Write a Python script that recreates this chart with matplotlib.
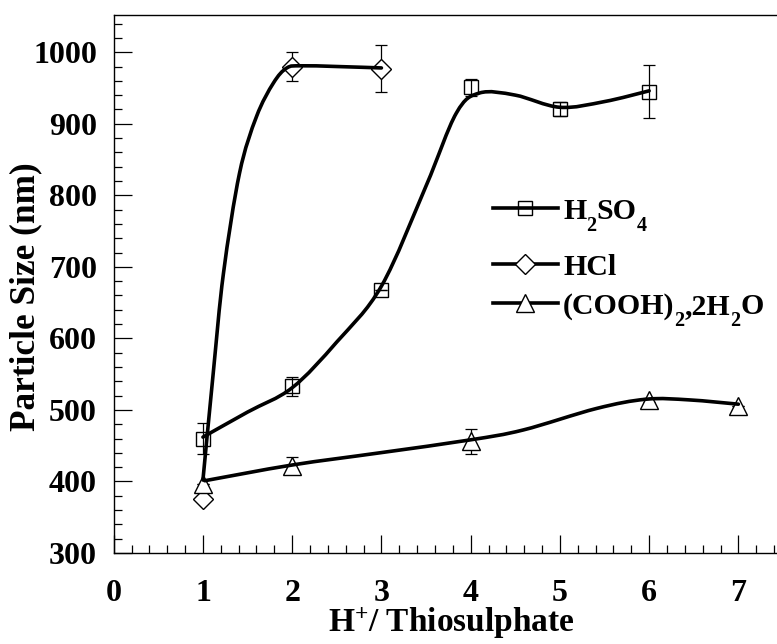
import numpy as np
import matplotlib
matplotlib.use("Agg")
import matplotlib.pyplot as plt
from matplotlib.path import Path
from matplotlib.patches import PathPatch
from matplotlib.ticker import MultipleLocator
from matplotlib.transforms import IdentityTransform

plt.rcParams['font.family'] = ['Liberation Serif', 'DejaVu Serif']
plt.rcParams['font.weight'] = 'bold'
plt.rcParams['mathtext.fontset'] = 'custom'
plt.rcParams['mathtext.rm'] = 'Liberation Serif:bold'
plt.rcParams['mathtext.it'] = 'Liberation Serif:bold'
plt.rcParams['mathtext.bf'] = 'Liberation Serif:bold'

# measured points
h2so4_x = [1, 2, 3, 4, 5, 6]
h2so4_y = [460, 533, 668, 951, 921, 945]
h2so4_err = [22, 13, 0, 12, 10, 37]

hcl_x = [1, 2, 3]
hcl_y = [375, 980, 977]
hcl_err = [0, 20, 33]

cooh_x = [1, 2, 4, 6, 7]
cooh_y = [397, 422, 456, 514, 506]
cooh_err = [0, 12, 17, 3, 0]

# smooth fitted curves (knots)
h2so4_fit_x = [1.0, 1.5, 2.0, 2.5, 3.0, 3.5, 3.84, 4.1, 4.5, 5.0, 5.5, 6.0]
h2so4_fit_y = [462, 497, 531, 595, 673, 813, 915, 943, 940, 923, 931, 946]
hcl_fit_x = [1.0, 1.115, 1.23, 1.41, 1.6, 1.79, 1.94, 2.1, 2.5, 3.0]
hcl_fit_y = [402, 551, 691, 831, 910, 957, 978, 981, 980, 978]
cooh_fit_x = [1.02, 2.0, 2.98, 3.99, 4.59, 5.41, 5.97, 6.45, 7.0]
cooh_fit_y = [401, 423, 440, 458, 472, 502, 515, 514, 508]

x_ticks = [0, 1, 2, 3, 4, 5, 6, 7]
y_ticks = [300, 400, 500, 600, 700, 800, 900, 1000]

# legend labels as (text, is_subscript) pieces
legend_labels = [
    [('H', 0), ('2', 1), ('SO', 0), ('4', 1)],
    [('HCl', 0)],
    [('(COOH)', 0), ('2', 1), (',2H', 0), ('2', 1), ('O', 0)],
]


def smooth_path(xs, ys):
    # Catmull-Rom knots -> cubic bezier path
    p = np.column_stack([xs, ys]).astype(float)
    p_ext = np.vstack([p[0], p, p[-1]])
    verts = [p[0]]
    codes = [Path.MOVETO]
    for i in range(1, len(p_ext) - 2):
        p0, p1, p2, p3 = p_ext[i - 1], p_ext[i], p_ext[i + 1], p_ext[i + 2]
        verts += [p1 + (p2 - p0) / 6, p2 - (p3 - p1) / 6, p2]
        codes += [Path.CURVE4] * 3
    return Path(verts, codes)


W, H = 777, 644
fig = plt.figure(figsize=(W / 100, H / 100), dpi=100)
ax = fig.add_axes([113.7 / W, 1 - 553 / H, 669.3 / W, 538 / H])

for xs, ys, es in [(h2so4_x, h2so4_y, h2so4_err), (hcl_x, hcl_y, hcl_err),
                   (cooh_x, cooh_y, cooh_err)]:
    ax.errorbar(xs, ys, yerr=es, fmt='none', ecolor='black',
                elinewidth=0.9, capsize=4.5, capthick=0.9, zorder=2)

ax.plot(h2so4_x, h2so4_y, 's', ms=10, mfc='none', mec='black', mew=1.0, zorder=3)
ax.plot(hcl_x, hcl_y, 'D', ms=10, mfc='white', mec='black', mew=1.0, zorder=3)
ax.plot(cooh_x, cooh_y, '^', ms=13, mfc='white', mec='black', mew=1.0, zorder=3)

for fx, fy in [(h2so4_fit_x, h2so4_fit_y), (hcl_fit_x, hcl_fit_y), (cooh_fit_x, cooh_fit_y)]:
    ax.add_patch(PathPatch(smooth_path(fx, fy), fill=False, lw=2.6,
                           edgecolor='black', capstyle='round', zorder=4))

ax.set_xlim(0, 7.5)
ax.set_ylim(300, 1052)
ax.set_xticks(x_ticks)
ax.set_yticks(y_ticks)
ax.xaxis.set_minor_locator(MultipleLocator(0.2))
ax.yaxis.set_minor_locator(MultipleLocator(20))
ax.tick_params(which='both', direction='in', top=False, right=False, width=0.9,
               labelsize=23)
ax.tick_params(which='major', length=13)
ax.tick_params(which='minor', length=6)
ax.tick_params(axis='x', pad=18.5)
ax.tick_params(axis='y', pad=12)
for lab in ax.get_xticklabels() + ax.get_yticklabels():
    lab.set_fontweight('bold')
for sp in ax.spines.values():
    sp.set_linewidth(1.0)

ax.set_xlabel(r'H$^{+}$/ Thiosulphate', fontsize=24, fontweight='bold', labelpad=2)
ax.xaxis.set_label_coords(0.504, -0.094 - 2 / 538)
ax.set_ylabel('Particle Size (nm)', fontsize=25.4, fontweight='bold')
ax.yaxis.set_label_coords(-0.107, 0.476)

# legend drawn by hand
legend_markers = [('s', 10, 'none'), ('D', 10, 'white'), ('^', 13, 'white')]
legend_rows = [208, 264, 303]  # pixel rows from top
renderer = fig.canvas.get_renderer()
for pieces, (m, ms, fc), row in zip(legend_labels, legend_markers, legend_rows):
    yy = H - row
    ax.plot([493, 558], [yy, yy], '-', color='black', lw=2.6,
            transform=IdentityTransform(), zorder=4, clip_on=False)
    ax.plot([525], [yy], m, ms=ms, mfc=fc, mec='black', mew=1.0,
            transform=IdentityTransform(), zorder=5, clip_on=False)
    x = 563
    base = yy - 11
    for txt, sub in pieces:
        size = 14.5 if sub else 21.5
        t = fig.text(x, base - (12 if sub else 0), txt, transform=IdentityTransform(),
                     fontsize=size, fontweight='bold', ha='left', va='baseline')
        x += t.get_window_extent(renderer).width

fig.savefig('out.png', dpi=100)
